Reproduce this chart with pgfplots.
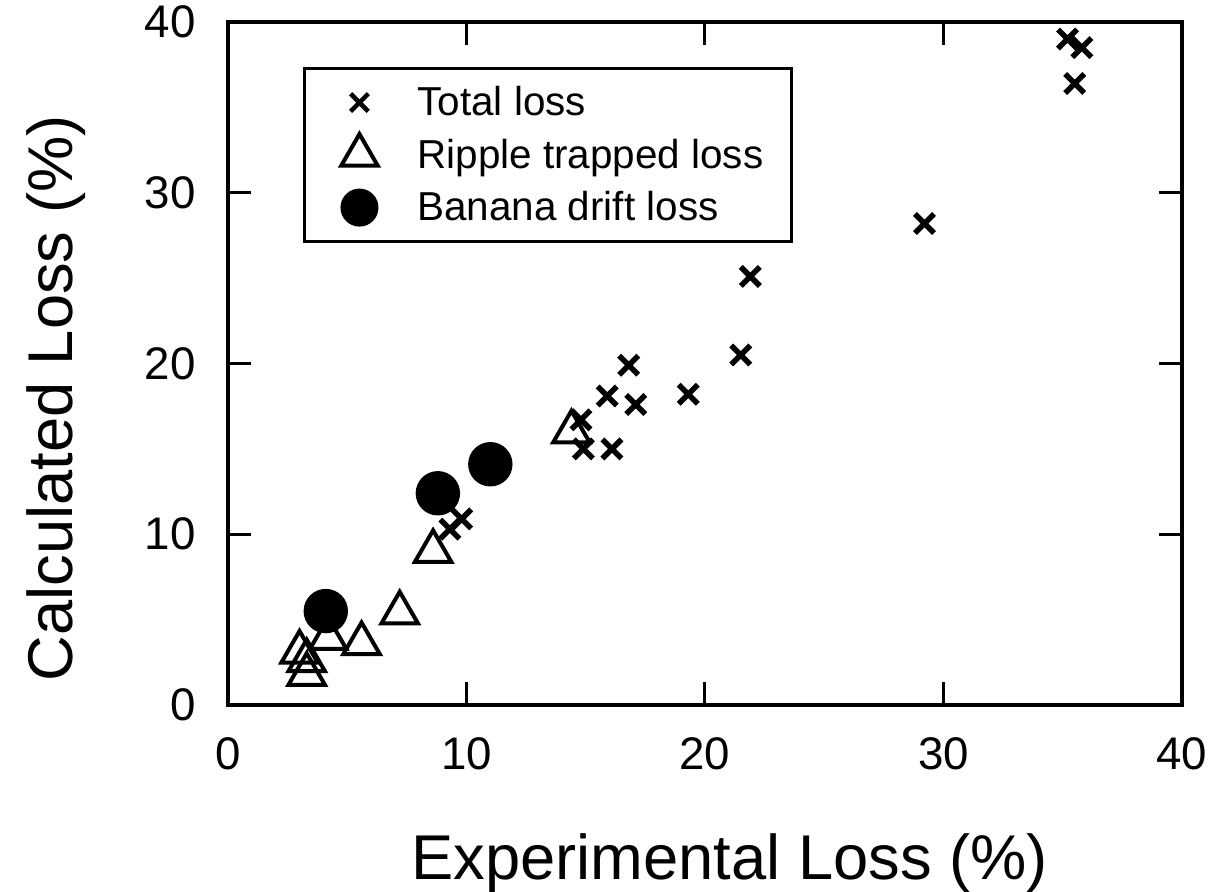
\documentclass[border=0pt]{standalone}
\usepackage{fontspec}
\setmainfont{Liberation Sans}
\usepackage{pgfplots}
\pgfplotsset{compat=1.18}
% legend image for a single mark, with room on both sides of it
\pgfplotsset{wide mark legend/.style={
  legend image code/.code={\path[draw=none, fill=none] (0cm,0cm) -- (0.85cm,0cm);
    \draw[mark repeat=2,mark phase=2,##1] plot coordinates {(0cm,0cm) (0.37cm,0cm) (0.74cm,0cm)};}}}

\begin{document}
\begin{tikzpicture}
\begin{axis}[
    scale only axis,
    width=95.4mm, height=68.3mm,
    xmin=0, xmax=40, ymin=0, ymax=40,
    xtick={0,10,...,40}, ytick={0,10,...,40},
    minor tick num=0,
    tick align=inside,
    major tick length=2.3mm,
    axis line style={line width=0.4mm},
    every tick/.style={line width=0.3mm, black},
    /pgf/number format/assume math mode=true,
    tick label style={font=\fontsize{13}{15}\selectfont},
    xticklabel style={yshift=-2mm},
    yticklabel style={xshift=-2mm},
    label style={font=\fontsize{18}{21}\selectfont},
    xlabel={Experimental Loss (\%)},
    ylabel={Calculated Loss (\%)},
    xlabel style={at={(axis description cs:0.526,-0.256)}, anchor=base},
    ylabel style={at={(axis description cs:-0.1635,0.449)}, anchor=base, rotate=0},
    legend style={at={(0.0786,0.934)}, anchor=north west,
      font=\fontsize{11.5}{13.8}\selectfont, draw=black, line width=0.3mm,
      inner xsep=1.8mm, inner ysep=1.2mm, row sep=0.85mm, column sep=0mm,
      nodes={inner xsep=1mm, inner ysep=0.4mm, text height=3.1mm, text depth=0.5mm}},
    legend cell align=left,
    clip=false,
]
\addlegendimage{only marks, mark=x, mark size=1.25mm, line width=0.45mm, wide mark legend}
\addlegendentry{Total loss}
\addlegendimage{only marks, mark=triangle, mark size=2.1mm, line width=0.4mm, wide mark legend}
\addlegendentry{Ripple trapped loss}
\addlegendimage{only marks, mark=*, mark size=1.75mm, wide mark legend}
\addlegendentry{Banana drift loss}

% total loss
\addplot[forget plot, only marks, mark=x, mark size=1.35mm, line width=0.55mm] coordinates {
  (35.2,39.0) (35.8,38.5) (35.5,36.4) (29.2,28.2) (21.9,25.1)
  (21.5,20.5) (19.3,18.2) (16.8,19.9) (15.9,18.1) (17.1,17.6)
  (14.8,16.7) (14.9,15.0) (16.1,15.0) (9.8,10.9) (9.3,10.3)
};
% ripple trapped loss
\addplot[forget plot, only marks, mark=triangle, mark size=2.1mm, line width=0.4mm] coordinates {
  (14.4,16.0) (8.6,9.0) (7.2,5.4) (5.6,3.6) (4.2,3.9)
  (3.0,3.1) (3.3,2.6) (3.3,1.8)
};
% banana drift loss
\addplot[forget plot, only marks, mark=*, mark size=2.15mm] coordinates {
  (4.1,5.5) (8.8,12.4) (11.0,14.1)
};
\end{axis}
\pgfresetboundingbox
\path (-22.8mm,-18.6mm) rectangle (99.8mm,70.5mm);
\end{tikzpicture}
\end{document}
